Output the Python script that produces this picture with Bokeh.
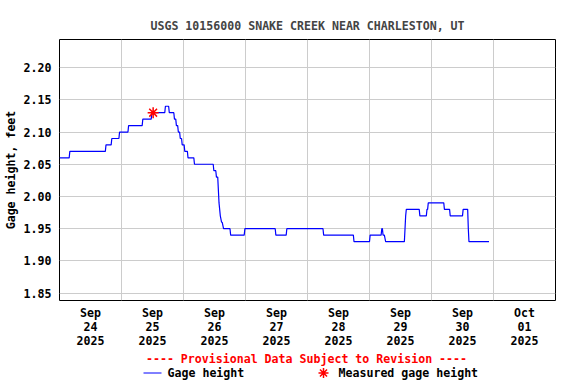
import pandas as pd
from bokeh.plotting import figure
from bokeh.layouts import column
from bokeh.models import Range1d, FixedTicker, PrintfTickFormatter
from bokeh.core.properties import value
from bokeh.embed import file_html
from bokeh.resources import INLINE

# ---- data ----
gage_time = [
    "2025-09-24 00:00", "2025-09-24 03:45", "2025-09-24 04:00",
    "2025-09-24 17:45", "2025-09-24 18:00", "2025-09-24 20:00",
    "2025-09-24 20:15", "2025-09-24 23:00", "2025-09-24 23:15",
    "2025-09-25 02:30", "2025-09-25 02:45", "2025-09-25 08:00",
    "2025-09-25 08:15", "2025-09-25 11:30", "2025-09-25 11:45",
    "2025-09-25 16:45", "2025-09-25 17:00", "2025-09-25 18:15",
    "2025-09-25 18:30", "2025-09-25 20:15", "2025-09-25 20:30",
    "2025-09-25 21:00", "2025-09-25 21:15", "2025-09-25 21:45",
    "2025-09-25 22:00", "2025-09-25 22:30", "2025-09-25 22:45",
    "2025-09-25 23:15", "2025-09-25 23:30", "2025-09-26 00:15",
    "2025-09-26 00:30", "2025-09-26 01:30", "2025-09-26 01:45",
    "2025-09-26 04:00", "2025-09-26 04:15", "2025-09-26 11:30",
    "2025-09-26 11:45", "2025-09-26 12:30", "2025-09-26 12:45",
    "2025-09-26 13:15", "2025-09-26 13:45", "2025-09-26 14:00",
    "2025-09-26 14:15", "2025-09-26 14:45", "2025-09-26 15:00",
    "2025-09-26 15:30", "2025-09-26 18:00", "2025-09-26 18:15",
    "2025-09-26 23:30", "2025-09-26 23:45", "2025-09-27 11:30",
    "2025-09-27 11:45", "2025-09-27 15:45", "2025-09-27 16:00",
    "2025-09-28 06:00", "2025-09-28 06:15", "2025-09-28 17:45",
    "2025-09-28 18:00", "2025-09-29 00:00", "2025-09-29 00:15",
    "2025-09-29 04:30", "2025-09-29 04:45", "2025-09-29 05:00",
    "2025-09-29 05:15", "2025-09-29 05:45", "2025-09-29 06:15",
    "2025-09-29 13:30", "2025-09-29 13:45", "2025-09-29 14:00",
    "2025-09-29 14:15", "2025-09-29 19:15", "2025-09-29 19:30",
    "2025-09-29 22:00", "2025-09-29 22:15", "2025-09-29 22:30",
    "2025-09-29 22:45", "2025-09-30 04:45", "2025-09-30 05:00",
    "2025-09-30 07:00", "2025-09-30 07:15", "2025-09-30 12:00",
    "2025-09-30 12:15", "2025-09-30 14:00", "2025-09-30 14:15",
    "2025-09-30 14:30", "2025-09-30 22:15",
]
gage_height = [
    2.06, 2.06, 2.07,
    2.07, 2.08, 2.08,
    2.09, 2.09, 2.10,
    2.10, 2.11, 2.11,
    2.12, 2.12, 2.13,
    2.13, 2.14, 2.14,
    2.13, 2.13, 2.12,
    2.12, 2.11, 2.11,
    2.10, 2.10, 2.09,
    2.09, 2.08, 2.08,
    2.07, 2.07, 2.06,
    2.06, 2.05, 2.05,
    2.04, 2.04, 2.03,
    2.03, 1.99, 1.98,
    1.97, 1.96, 1.96,
    1.95, 1.95, 1.94,
    1.94, 1.95, 1.95,
    1.94, 1.94, 1.95,
    1.95, 1.94, 1.94,
    1.93, 1.93, 1.94,
    1.94, 1.95, 1.95,
    1.94, 1.94, 1.93,
    1.93, 1.95, 1.97,
    1.98, 1.98, 1.97,
    1.97, 1.98, 1.98,
    1.99, 1.99, 1.98,
    1.98, 1.97, 1.97,
    1.98, 1.98, 1.95,
    1.93, 1.93,
]
measured_time = ["2025-09-25 12:15"]
measured_height = [2.13]

day_ticks = ["2025-09-24 12:00", "2025-09-25 12:00", "2025-09-26 12:00",
             "2025-09-27 12:00", "2025-09-28 12:00", "2025-09-29 12:00",
             "2025-09-30 12:00", "2025-10-01 12:00"]
day_labels = ["Sep\n24\n2025", "Sep\n25\n2025", "Sep\n26\n2025",
              "Sep\n27\n2025", "Sep\n28\n2025", "Sep\n29\n2025",
              "Sep\n30\n2025", "Oct\n01\n2025"]
grid_days = ["2025-09-25", "2025-09-26", "2025-09-27", "2025-09-28",
             "2025-09-29", "2025-09-30", "2025-10-01"]
y_ticks = [1.85, 1.90, 1.95, 2.00, 2.05, 2.10, 2.15, 2.20]

title_text = "USGS 10156000 SNAKE CREEK NEAR CHARLESTON, UT"
y_label = "Gage height, feet"
provisional_text = "---- Provisional Data Subject to Revision ----"
legend_labels = ["Gage height", "Measured gage height"]

x_start, x_end = "2025-09-24 00:00", "2025-10-02 00:00"
y_start, y_end = 1.8386, 2.2436

FONT = "DejaVu Sans Mono"
FS = "11.6px"
BLUE = "#0000ff"
RED = "#ff0000"
LEFT, RIGHT, FRAME_W = 58, 6, 496


def ms(s):
    return pd.Timestamp(s).value / 1e6


gt = pd.to_datetime(gage_time)
mt = pd.to_datetime(measured_time)

p = figure(frame_width=FRAME_W, frame_height=261, x_axis_type="datetime",
           output_backend="svg", toolbar_location=None,
           x_range=Range1d(pd.Timestamp(x_start), pd.Timestamp(x_end)),
           y_range=Range1d(y_start, y_end),
           min_border_left=LEFT, min_border_right=RIGHT,
           min_border_top=39, min_border_bottom=50)

p.title.text = title_text
p.title.align = "center"
p.title.text_font = FONT
p.title.text_font_size = FS
p.title.text_font_style = "bold"
p.title.standoff = 13

p.outline_line_color = "black"
p.outline_line_width = 1

p.line(gt, gage_height, line_color=BLUE, line_width=1.2)
p.scatter(mt, measured_height, marker="asterisk", size=11,
          line_color=RED, line_width=1.5)

xa = p.xaxis[0]
xa.ticker = FixedTicker(ticks=[ms(t) for t in day_ticks])
xa.major_label_overrides = {ms(t): lab for t, lab in zip(day_ticks, day_labels)}
ya = p.yaxis[0]
ya.ticker = FixedTicker(ticks=y_ticks)
ya.formatter = PrintfTickFormatter(format="%.2f")
ya.axis_label = y_label
ya.axis_label_standoff = 3
for ax in (xa, ya):
    ax.axis_line_color = None
    ax.major_tick_line_color = None
    ax.minor_tick_line_color = None
    ax.major_tick_out = 0
    ax.major_tick_in = 0
    ax.major_label_text_font = FONT
    ax.major_label_text_font_size = FS
    ax.major_label_text_font_style = "bold"
    ax.major_label_text_color = "black"
    ax.axis_label_text_font = FONT
    ax.axis_label_text_font_size = FS
    ax.axis_label_text_font_style = "bold"
    ax.axis_label_text_color = "black"
xa.major_label_standoff = 5
xa.major_label_text_line_height = 1.0
ya.major_label_standoff = 8

p.xgrid.ticker = FixedTicker(ticks=[ms(t) for t in grid_days])
for g in (p.xgrid[0], p.ygrid[0]):
    g.grid_line_color = "#cccccc"
    g.grid_line_width = 1

# ---- legend strip below the chart (x in page pixels, y in strip pixels) ----
SH = 30
s = figure(frame_width=FRAME_W, frame_height=SH, output_backend="svg",
           toolbar_location=None,
           x_range=Range1d(LEFT, LEFT + FRAME_W), y_range=Range1d(SH, 0),
           min_border_left=LEFT, min_border_right=RIGHT,
           min_border_top=0, min_border_bottom=0, outline_line_color=None)
s.axis.visible = False
s.grid.visible = False

s.text(x=[305], y=[8.5], text=[provisional_text], text_color=RED,
       text_font=value(FONT), text_font_size=FS, text_font_style="bold",
       text_align="center", text_baseline="middle")
row_y = 22.5
s.segment(x0=[142], y0=[row_y], x1=[160], y1=[row_y], line_color=BLUE,
          line_width=1)
s.scatter(x=[322], y=[row_y], marker="asterisk", size=10, line_color=RED,
          line_width=1.5)
s.text(x=[166, 337], y=[row_y, row_y], text=legend_labels, text_color="black",
       text_font=value(FONT), text_font_size=FS, text_font_style="bold",
       text_align="left", text_baseline="middle")

layout = column(p, s, spacing=0)
open("out.html", "w").write(file_html(layout, INLINE))
